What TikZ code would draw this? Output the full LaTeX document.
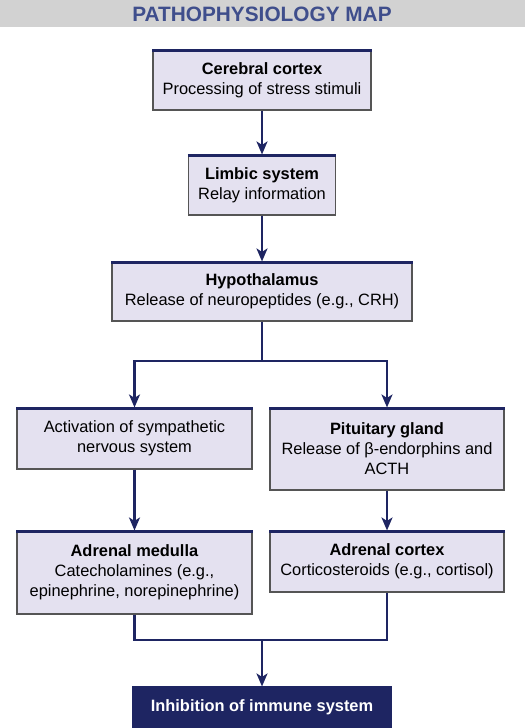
\documentclass[tikz,border=0pt]{standalone}
\usepackage{fontspec}
\setmainfont{Liberation Sans}
\usetikzlibrary{arrows.meta}

\definecolor{mapnavy}{HTML}{1E2562}
\definecolor{maptitle}{HTML}{3F4E8C}
\definecolor{mapgray}{HTML}{D2D2D2}
\definecolor{boxfill}{HTML}{E4E1F0}
\definecolor{boxline}{HTML}{555555}

\tikzset{
  mapbox/.style={draw=boxline, line width=1.1pt, fill=boxfill, align=center, inner sep=0pt,
    font=\fontsize{16.4}{20}\selectfont},
  endbox/.style={mapbox, draw=mapnavy, fill=mapnavy, text=white, font=\bfseries\fontsize{16.4}{20}\selectfont},
  topbar/.style={draw=mapnavy, line width=3.4pt},
  maplink/.style={draw=mapnavy, line width=2.2pt},
  mapflow/.style={maplink, -{Stealth[length=13pt,width=11pt,inset=3.5pt]}}
}

\begin{document}
\begin{tikzpicture}[x=1pt,y=-1pt]
  \useasboundingbox (0,0) rectangle (525,728);
  \fill[mapgray] (0,0) rectangle (525,27);
  \node[font=\bfseries\fontsize{20.8}{24}\selectfont, text=maptitle] (title) at (262,14) {PATHOPHYSIOLOGY MAP};

  \node[mapbox, minimum width=218pt, minimum height=60pt] (cortex) at (262,80) {\textbf{Cerebral cortex}\\Processing of stress stimuli};
  \node[mapbox, minimum width=147pt, minimum height=60pt] (limbic) at (262,185) {\textbf{Limbic system}\\Relay information};
  \node[mapbox, minimum width=300pt, minimum height=59pt] (hypo) at (262,291.5) {\textbf{Hypothalamus}\\Release of neuropeptides (e.g., CRH)};
  \node[mapbox, minimum width=235pt, minimum height=61pt] (sympa) at (134.5,438.5) {Activation of sympathetic\\nervous system};
  \node[mapbox, minimum width=234pt, minimum height=82pt] (pituit) at (387,449) {\textbf{Pituitary gland}\\Release of β-endorphins and\\ACTH};
  \node[mapbox, minimum width=235pt, minimum height=83pt] (medulla) at (134.5,572.5) {\textbf{Adrenal medulla}\\Catecholamines (e.g.,\\epinephrine, norepinephrine)};
  \node[mapbox, minimum width=234pt, minimum height=61pt] (adcortex) at (387,561.5) {\textbf{Adrenal cortex}\\Corticosteroids (e.g., cortisol)};
  \node[endbox, minimum width=258pt, minimum height=41pt] (immune) at (262,707.5) {Inhibition of immune system};

  \foreach \n in {cortex,limbic,hypo,sympa,pituit,medulla,adcortex}
    \draw[topbar] ([yshift=-1.2pt]\n.north west) -- ([yshift=-1.2pt]\n.north east);

  \coordinate (split) at (262,361);
  \coordinate (merge) at (262,640);

  \draw[mapflow] (cortex) -- (limbic);
  \draw[mapflow] (limbic) -- (hypo);
  \draw[maplink] (hypo) -- (split);
  \draw[mapflow] (split) -| (sympa);
  \draw[mapflow] (split) -| (pituit);
  \draw[mapflow] (sympa) -- (medulla);
  \draw[mapflow] (pituit) -- (adcortex);
  \draw[maplink] (medulla) |- (merge) -| (adcortex);
  \draw[mapflow] (merge) -- (immune);

\end{tikzpicture}
\end{document}
